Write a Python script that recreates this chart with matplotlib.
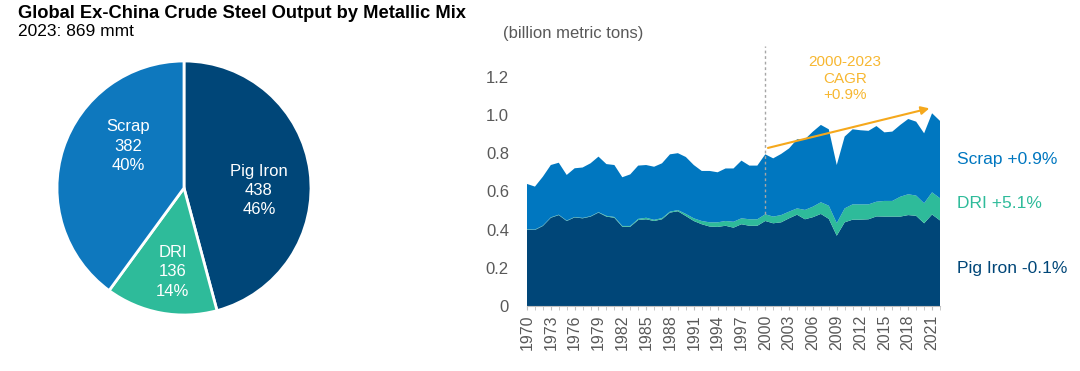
import numpy as np
import matplotlib
matplotlib.use("Agg")
import matplotlib.pyplot as plt
from matplotlib.ticker import MultipleLocator, FixedLocator

plt.rcParams["font.family"] = ["Liberation Sans", "DejaVu Sans"]

# --- Data ---
pie_labels = ["Pig Iron", "DRI", "Scrap"]
pie_values = [438, 136, 382]
pie_pcts = ["46%", "14%", "40%"]

years = list(range(1970, 2023))
pig_iron = [0.400, 0.398, 0.419, 0.462, 0.476, 0.445, 0.464, 0.459, 0.468, 0.489,
            0.468, 0.462, 0.415, 0.415, 0.450, 0.454, 0.445, 0.454, 0.489, 0.496,
            0.471, 0.445, 0.428, 0.416, 0.414, 0.420, 0.410, 0.428, 0.420, 0.420,
            0.445, 0.433, 0.438, 0.459, 0.478, 0.454, 0.465, 0.482, 0.456, 0.368,
            0.438, 0.452, 0.452, 0.454, 0.469, 0.468, 0.468, 0.468, 0.476, 0.472,
            0.433, 0.479, 0.448]
dri = [0.002, 0.002, 0.002, 0.002, 0.002, 0.002, 0.002, 0.002, 0.002, 0.002,
       0.004, 0.004, 0.004, 0.004, 0.006, 0.008, 0.006, 0.006, 0.005, 0.006,
       0.011, 0.014, 0.017, 0.022, 0.024, 0.025, 0.031, 0.031, 0.034, 0.034,
       0.035, 0.035, 0.038, 0.035, 0.033, 0.049, 0.055, 0.061, 0.069, 0.066,
       0.073, 0.080, 0.080, 0.078, 0.077, 0.082, 0.082, 0.104, 0.109, 0.106,
       0.105, 0.116, 0.116]
scrap = [0.237, 0.225, 0.256, 0.274, 0.272, 0.239, 0.255, 0.264, 0.277, 0.291,
         0.271, 0.272, 0.255, 0.270, 0.279, 0.276, 0.278, 0.287, 0.300, 0.298,
         0.298, 0.279, 0.262, 0.269, 0.262, 0.275, 0.279, 0.302, 0.281, 0.281,
         0.314, 0.305, 0.320, 0.331, 0.362, 0.370, 0.393, 0.405, 0.400, 0.304,
         0.376, 0.393, 0.388, 0.385, 0.396, 0.359, 0.363, 0.376, 0.394, 0.387,
         0.366, 0.414, 0.405]

series_labels = ["Pig Iron -0.1%", "DRI +5.1%", "Scrap +0.9%"]
cagr_start, cagr_end = 2000, 2021
cagr_text = "2000-2023\nCAGR\n+0.9%"

# --- Styles ---
NAVY = "#004678"
GREEN = "#2EBB9A"
BLUE = "#0077C0"
PIE_BLUE = "#0E78BE"
ORANGE = "#F5A81C"
ORANGE_TXT = "#F7B731"
GRAY = "#595959"

fig = plt.figure(figsize=(10.8, 3.71), dpi=100)

fig.text(18 / 1080, 1 - 13 / 371, "Global Ex-China Crude Steel Output by Metallic Mix",
         fontsize=13.2, fontweight="bold", va="center", ha="left", color="black")
fig.text(18 / 1080, 1 - 32 / 371, "2023: 869 mmt", fontsize=12.5,
         va="center", ha="left", color="black")

# --- Pie ---
ax_pie = fig.add_axes([57 / 1080, (371 - 188 - 127) / 371, 254 / 1080, 254 / 371])
ax_pie.pie(pie_values, colors=[NAVY, GREEN, PIE_BLUE], startangle=90, counterclock=False,
           radius=1, wedgeprops=dict(edgecolor="white", linewidth=2))
ax_pie.set_xlim(-1, 1)
ax_pie.set_ylim(-1, 1)
ax_pie.set_aspect("equal")
label_pos = [(0.59, -0.02), (-0.09, -0.66), (-0.44, 0.33)]
for (lx, ly), name, val, pct in zip(label_pos, pie_labels, pie_values, pie_pcts):
    ax_pie.text(lx, ly, f"{name}\n{val}\n{pct}", color="white", fontsize=12,
                ha="center", va="center", linespacing=1.35)

# --- Stacked area ---
ax = fig.add_axes([527 / 1080, 65 / 371, 413 / 1080, 259.8 / 371])
ax.stackplot(years, pig_iron, dri, scrap, colors=[NAVY, GREEN, BLUE], linewidth=0)
ax.set_xlim(years[0], years[-1])
ax.set_ylim(0, 1.36)

ax.yaxis.set_major_locator(FixedLocator([0, 0.2, 0.4, 0.6, 0.8, 1.0, 1.2]))
ax.set_yticklabels(["0", "0.2", "0.4", "0.6", "0.8", "1.0", "1.2"])
ax.tick_params(axis="y", length=0, pad=13, labelsize=12, labelcolor=GRAY)

ax.xaxis.set_major_locator(FixedLocator(years[::3]))
ax.xaxis.set_minor_locator(MultipleLocator(1))
ax.set_xticklabels([str(y) for y in years[::3]], rotation=90)
ax.tick_params(axis="x", which="both", length=3, color="#BFBFBF", pad=3,
               labelsize=11.5, labelcolor=GRAY)

for side in ["top", "right", "left"]:
    ax.spines[side].set_visible(False)
ax.spines["bottom"].set_color("#BFBFBF")

# dotted marker for 2000
i0 = years.index(cagr_start)
ax.vlines(cagr_start, pig_iron[i0] + dri[i0], 1.36, colors="#A6A6A6",
          linestyles=(0, (2, 2)), linewidth=1, clip_on=False)

# CAGR arrow
total = [p + d + s for p, d, s in zip(pig_iron, dri, scrap)]
ax.annotate("", xy=(cagr_end, 1.038), xytext=(cagr_start, total[i0] + 0.03),
            arrowprops=dict(arrowstyle="-|>", color=ORANGE, lw=1.5, mutation_scale=12))
ax.text(2010, 1.19, cagr_text, color=ORANGE_TXT, fontsize=11, ha="center", va="center",
        linespacing=1.2)

ax.text(-0.058, 1.05, "(billion metric tons)", transform=ax.transAxes, fontsize=12,
        color=GRAY, ha="left", va="center")

# series labels on the right
label_y = [0.146, 0.393, 0.562]
for y, txt, c in zip(label_y, series_labels, [NAVY, GREEN, BLUE]):
    ax.text(1.04, y, txt, transform=ax.transAxes, fontsize=12.5, color=c,
            ha="left", va="center")

fig.savefig("out.png", dpi=100)
